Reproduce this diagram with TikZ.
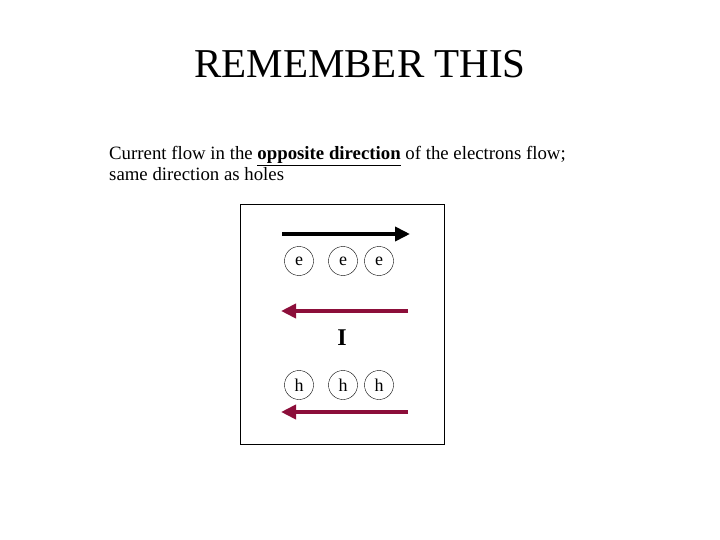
\documentclass[tikz,border=0pt]{standalone}
\usepackage{fontspec}
\setmainfont{Liberation Serif}
\usetikzlibrary{arrows.meta}
\definecolor{maroon}{RGB}{140,14,58}
\begin{document}
\begin{tikzpicture}[x=1pt,y=-1pt,
  particle/.style={draw,circle,minimum size=29pt,inner sep=0pt,font=\fontsize{18}{18}\selectfont},
  flow/.style={line width=4.5pt,-{Triangle[length=15pt,width=14pt]}},
  txt/.style={anchor=base west,inner sep=0pt,font=\fontsize{18.8}{20}\selectfont}]
\useasboundingbox (0,0) rectangle (720,540);
\node[anchor=base,inner sep=0pt,font=\fontsize{41}{41}\selectfont] (title) at (360,78) {REMEMBER THIS};
\node[txt] (l1) at (109,160) {Current flow in the \underline{\textbf{opposite direction}} of the electrons flow;};
\node[txt] (l2) at (109,181) {same direction as holes};
\node[draw,line width=0.8pt,minimum width=204pt,minimum height=240pt,inner sep=0pt] (box) at (342,324) {};
\coordinate (a1s) at (282,234); \coordinate (a1e) at (410,234);
\coordinate (a2s) at (408,311); \coordinate (a2e) at (281,311);
\coordinate (a3s) at (408,412); \coordinate (a3e) at (281,412);
\draw[flow,black] (a1s) -- (a1e);
\draw[flow,maroon] (a2s) -- (a2e);
\draw[flow,maroon] (a3s) -- (a3e);
\node[particle] (e1) at (299,261) {e};
\node[particle] (e2) at (343,261) {e};
\node[particle] (e3) at (379,261) {e};
\node[font=\fontsize{24}{24}\selectfont\bfseries] (I) at (342,338) {I};
\node[particle] (h1) at (299,385) {h};
\node[particle] (h2) at (343,385) {h};
\node[particle] (h3) at (379,385) {h};
\end{tikzpicture}
\end{document}
